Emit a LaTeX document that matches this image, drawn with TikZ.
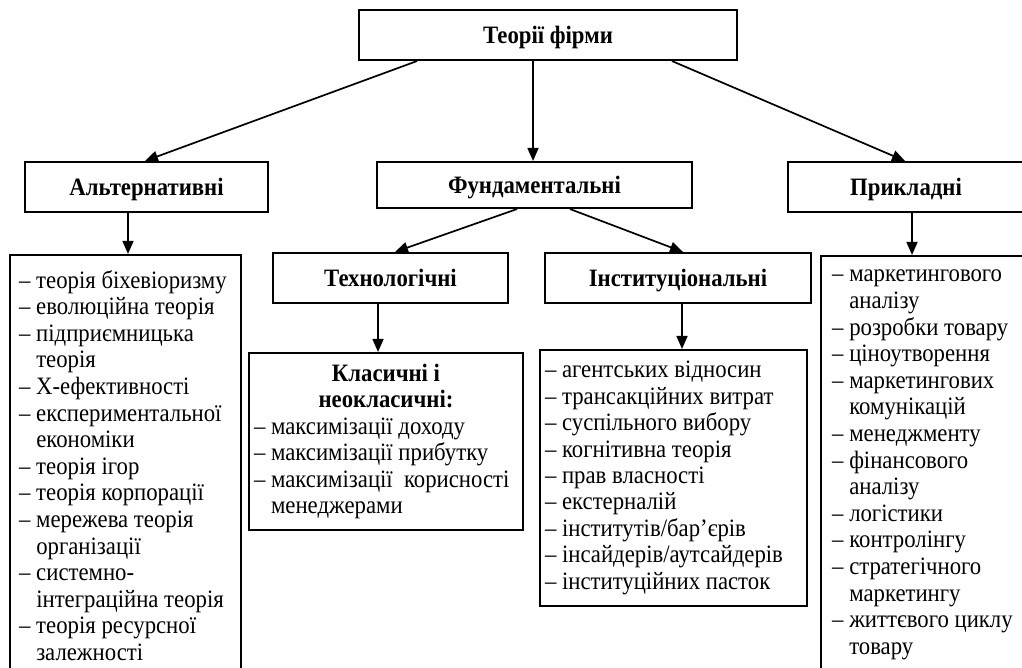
\documentclass[tikz,border=0pt]{standalone}
\usepackage{fontspec}
\setmainfont{Liberation Serif}[FakeStretch=0.91]
\usetikzlibrary{arrows.meta,calc}
\newcommand{\ind}{\phantom{– }}
\begin{document}
\begin{tikzpicture}[x=1pt,y=-1pt,
  box/.style={draw,line width=2.1pt,inner sep=0pt,text height=16.5pt,text depth=0pt,font=\fontsize{25}{26.5}\selectfont\bfseries},
  listbox/.style={draw,line width=2.1pt,inner sep=0pt,align=flush left,font=\fontsize{25}{26.4}\selectfont},
  conn/.style={line width=1.7pt,-{Triangle[length=13pt,width=11pt]}},
  sidelist/.style={inner sep=0pt,align=flush left,anchor=north west,font=\fontsize{25}{26.6}\selectfont},
]
\useasboundingbox (0,0) rectangle (1022,668);
\clip (0,0) rectangle (1022,668);
% level 0
\node[box,minimum width=378pt,minimum height=50pt] (top) at (548,35) {Теорії фірми};
% level 1
\node[box,minimum width=243pt,minimum height=50pt] (alt) at (146.5,187) {Альтернативні};
\node[box,minimum width=315pt,minimum height=46pt] (fund) at (534.5,185) {Фундаментальні};
\node[box,minimum width=236pt,minimum height=50pt] (prik) at (906,187) {Прикладні};
% level 2
\node[box,minimum width=235pt,minimum height=50pt] (tech) at (390.5,278) {Технологічні};
\node[box,minimum width=266pt,minimum height=50pt] (inst) at (678,278) {Інституціональні};
% lists
\node[draw,line width=2.1pt,minimum width=231pt,minimum height=445pt,inner sep=0pt] (altlist) at (125.5,477.5) {};
\node[draw,line width=2.1pt,minimum width=219pt,minimum height=444pt,inner sep=0pt] (priklist) at (930.5,478) {};
\node[listbox,text width=264pt,minimum width=274pt,minimum height=177pt] (clas) at (386,441.5) {%
\makebox[264pt]{\bfseries Класичні і}\\
\makebox[264pt]{\bfseries неокласичні:}\\
– максимізації доходу\\
– максимізації прибутку\\
– максимізації\hspace{0.45em}корисності\\
\ind менеджерами};
\node[listbox,text width=257pt,minimum width=267pt,minimum height=256pt] (instlist) at (673.5,478) {%
– агентських відносин\\
– трансакційних витрат\\
– суспільного вибору\\
– когнітивна теорія\\
– прав власності\\
– екстерналій\\
– інститутів/бар’єрів\\
– інсайдерів/аутсайдерів\\
– інституційних пасток};
\node[sidelist] (alttext) at (19,270) {%
– теорія біхевіоризму\\
– еволюційна теорія\\
– підприємницька\\
\ind теорія\\
– Х-ефективності\\
– експериментальної\\
\ind економіки\\
– теорія ігор\\
– теорія корпорації\\
– мережева теорія\\
\ind організації\\
– системно-\\
\ind інтеграційна теорія\\
– теорія ресурсної\\
\ind залежності};
\node[sidelist] (priktext) at (832,270) {%
– маркетингового\\
\ind аналізу\\
– розробки товару\\
– ціноутворення\\
– маркетингових\\
\ind комунікацій\\
– менеджменту\\
– фінансового\\
\ind аналізу\\
– логістики\\
– контролінгу\\
– стратегічного\\
\ind маркетингу\\
– життєвого циклу\\
\ind товару};
% connectors
\draw[conn] ([xshift=-131pt]top.south) -- ([xshift=-1.5pt]alt.north);
\draw[conn] ([xshift=-15pt]top.south) -- ([xshift=-15pt]top.south |- fund.north);
\draw[conn] ([xshift=124pt]top.south) -- ([xshift=-1pt]prik.north);
\draw[conn] ([xshift=-18.5pt]alt.south) -- ([xshift=-18.5pt]alt.south |- altlist.north);
\draw[conn] ([xshift=-17.5pt]fund.south) -- ([xshift=4.5pt]tech.north);
\draw[conn] ([xshift=35.5pt]fund.south) -- ([xshift=5pt]inst.north);
\draw[conn] ([xshift=-12.5pt]tech.south) -- ([xshift=-12.5pt]tech.south |- clas.north);
\draw[conn] ([xshift=4pt]inst.south) -- ([xshift=4pt]inst.south |- instlist.north);
\draw[conn] ([xshift=6pt]prik.south) -- ([xshift=6pt]prik.south |- priklist.north);
\end{tikzpicture}
\end{document}
